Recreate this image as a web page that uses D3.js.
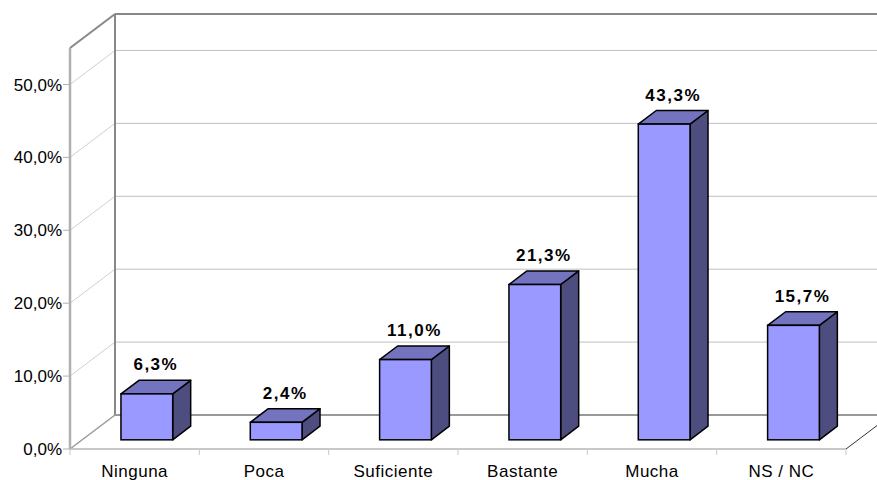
<!DOCTYPE html>
<html>
<head>
<meta charset="utf-8">
<script src="https://cdnjs.cloudflare.com/ajax/libs/d3/7.8.5/d3.min.js"></script>
<style>
  body { margin: 0; background: #fff; }
  text { font-family: "Liberation Sans", Arial, sans-serif; }
</style>
</head>
<body>
<div id="chart"></div>
<script>
// Data

var categories = ["Ninguna", "Poca", "Suficiente", "Bastante", "Mucha", "NS / NC"];
var values = [0.063, 0.024, 0.110, 0.213, 0.433, 0.157];
var yTicks = [0, 0.1, 0.2, 0.3, 0.4, 0.5];

var width = 877, height = 480;

var svg = d3.select("#chart").append("svg")
    .attr("width", width)
    .attr("height", height);

var locale = d3.formatLocale({decimal: ",", thousands: ".", grouping: [3], currency: ["", "€"]});
var fmt = locale.format(".1%");

// Scales (front plane)
var x = d3.scaleBand().domain(categories).range([70, 846]);
var y = d3.scaleLinear().domain([0, 0.55]).range([449, 48]);

// 3d depth of the whole plot, and of the bars
var depth = {dx: 45, dy: -34};
var barStart = 0.27, barDepth = 0.4;
var bw = x.bandwidth() * 0.4;

var x0 = x.range()[0], x1 = x.range()[1];
var yTop = y.range()[1], yBot = y.range()[0];

// Walls
var g = svg.append("g");

// back wall gridlines
yTicks.forEach(function(t) {
  if (t === 0) return;
  g.append("line")
    .attr("x1", x0 + depth.dx).attr("x2", width)
    .attr("y1", y(t) + depth.dy).attr("y2", y(t) + depth.dy)
    .attr("stroke", "#c0c0c0").attr("stroke-width", 1);
  // left wall
  g.append("line")
    .attr("x1", x0).attr("x2", x0 + depth.dx)
    .attr("y1", y(t)).attr("y2", y(t) + depth.dy)
    .attr("stroke", "#d0d0d0").attr("stroke-width", 1);
});

// back wall frame
g.append("line")
  .attr("x1", x0 + depth.dx).attr("x2", x0 + depth.dx)
  .attr("y1", yTop + depth.dy).attr("y2", yBot + depth.dy)
  .attr("stroke", "#888").attr("stroke-width", 2);
g.append("line")
  .attr("x1", x0 + depth.dx).attr("x2", width)
  .attr("y1", yTop + depth.dy).attr("y2", yTop + depth.dy)
  .attr("stroke", "#888").attr("stroke-width", 2);
g.append("line")
  .attr("x1", x0).attr("x2", x0 + depth.dx)
  .attr("y1", yTop).attr("y2", yTop + depth.dy)
  .attr("stroke", "#888").attr("stroke-width", 2);
// floor back edge
g.append("line")
  .attr("x1", x0 + depth.dx).attr("x2", width)
  .attr("y1", yBot + depth.dy).attr("y2", yBot + depth.dy)
  .attr("stroke", "#999").attr("stroke-width", 2);
// floor left edge
g.append("line")
  .attr("x1", x0).attr("x2", x0 + depth.dx)
  .attr("y1", yBot).attr("y2", yBot + depth.dy)
  .attr("stroke", "#999").attr("stroke-width", 1.5);
// floor right edge
g.append("line")
  .attr("x1", x1).attr("x2", x1 + depth.dx)
  .attr("y1", yBot).attr("y2", yBot + depth.dy)
  .attr("stroke", "#333").attr("stroke-width", 1);
// floor front edge
g.append("line")
  .attr("x1", x0).attr("x2", x1)
  .attr("y1", yBot).attr("y2", yBot)
  .attr("stroke", "#c8c8c8").attr("stroke-width", 2);
// front vertical axis
g.append("line")
  .attr("x1", x0).attr("x2", x0)
  .attr("y1", yTop).attr("y2", yBot)
  .attr("stroke", "#b0b0b0").attr("stroke-width", 2.5);

// Y axis ticks and labels
yTicks.forEach(function(t) {
  g.append("line")
    .attr("x1", x0 - 7).attr("x2", x0)
    .attr("y1", y(t)).attr("y2", y(t))
    .attr("stroke", "#b0b0b0").attr("stroke-width", 1);
  g.append("text")
    .attr("x", x0 - 8).attr("y", y(t))
    .attr("dy", "0.36em")
    .attr("text-anchor", "end")
    .attr("font-size", 17)
    .attr("fill", "#000")
    .text(fmt(t));
});

// X axis ticks and labels
d3.range(categories.length + 1).forEach(function(i) {
  var xx = x0 + i * x.step();
  g.append("line")
    .attr("x1", xx).attr("x2", xx)
    .attr("y1", yBot).attr("y2", yBot + 6)
    .attr("stroke", "#c8c8c8").attr("stroke-width", 1);
});
categories.forEach(function(c) {
  g.append("text")
    .attr("x", x(c) + x.bandwidth() / 2)
    .attr("y", 477)
    .attr("text-anchor", "middle")
    .attr("font-size", 17)
    .attr("letter-spacing", "0.5px")
    .text(c);
});

// Bars
var ox = depth.dx * barStart, oy = depth.dy * barStart;
var ddx = depth.dx * barDepth, ddy = depth.dy * barDepth;

categories.forEach(function(c, i) {
  var v = values[i];
  var left = x(c) + ox + (x.bandwidth() - bw) / 2;
  var right = left + bw;
  var top = y(v) + oy;
  var bot = y(0) + oy;
  var bar = svg.append("g");

  // side
  bar.append("path")
    .attr("d", d3.line()([[right, top], [right + ddx, top + ddy], [right + ddx, bot + ddy], [right, bot]]) + "Z")
    .attr("fill", "#4d4d80").attr("stroke", "#000").attr("stroke-width", 1.5)
    .attr("stroke-linejoin", "round");
  // top
  bar.append("path")
    .attr("d", d3.line()([[left, top], [left + ddx, top + ddy], [right + ddx, top + ddy], [right, top]]) + "Z")
    .attr("fill", "#7373bf").attr("stroke", "#000").attr("stroke-width", 1.5)
    .attr("stroke-linejoin", "round");
  // front
  bar.append("rect")
    .attr("x", left).attr("y", top)
    .attr("width", bw).attr("height", bot - top)
    .attr("fill", "#9999ff").attr("stroke", "#000").attr("stroke-width", 1.5);

  // value label
  svg.append("text")
    .attr("x", left + bw / 2 + ddx / 2)
    .attr("y", top + ddy - 10)
    .attr("text-anchor", "middle")
    .attr("font-size", 17)
    .attr("font-weight", "bold")
    .attr("letter-spacing", "1.5px")
    .text(fmt(v));
});
</script>
</body>
</html>
